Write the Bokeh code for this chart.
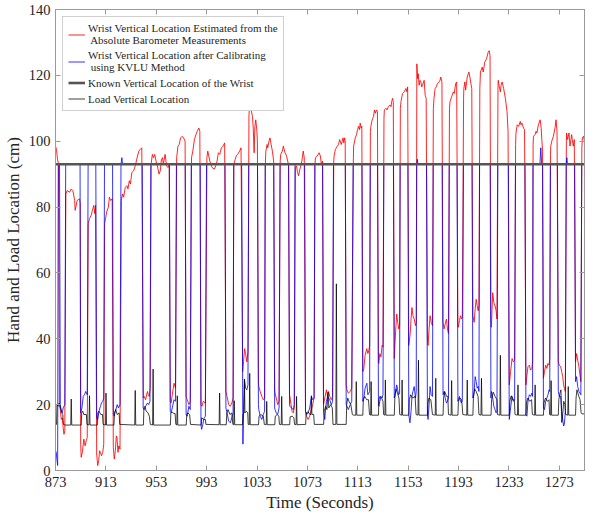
from bokeh.plotting import figure
from bokeh.models import Range1d, FixedTicker, LinearAxis, Legend, LegendItem
from bokeh.embed import file_html
from bokeh.resources import INLINE

# ---------------- data (time in seconds, location in cm) ----------------
t_start = 873
t_end = 1293
x_ticks = [873, 913, 953, 993, 1033, 1073, 1113, 1153, 1193, 1233, 1273]
y_ticks = [0, 20, 40, 60, 80, 100, 120, 140]
known_level = 93

red_points = [
    (873.0, 98.5), (873.8, 97.5), (874.6, 94.5), (875.4, 93),
    (876.1, 20), (876.8, 18.5), (877.6, 15.5), (878.4, 16), (879.1, 13), (879.7, 11), (880.4, 12),
    (881.2, 84), (882.3, 85), (884.2, 84.5), (885.5, 85.5), (886.8, 85), (888.2, 82), (888.6, 79), (890.2, 82), (892.1, 82.5), (892.6, 81),
    (893.0, 8), (893.4, 4), (894.3, 5.5), (895.5, 9.5), (896.0, 8.5), (896.5, 7.5), (897.4, 9), (898.2, 10),
    (899.0, 75), (900.0, 76.5), (901.3, 77.5), (902.3, 79), (903.4, 80.5), (904.2, 78), (904.8, 80.5),
    (905.7, 5), (906.5, 1.5), (907.3, 3), (908.0, 6), (908.7, 5.5), (909.5, 4.5), (910.5, 5.5), (911.3, 8),
    (912.0, 75), (913.0, 77), (913.6, 78.5), (915.0, 80), (915.8, 83), (916.8, 82), (918.0, 82.5),
    (918.9, 7), (919.7, 3.5), (920.5, 6), (921.3, 10.5), (921.8, 10), (922.6, 5.5), (923.3, 7.5), (924.2, 6.5),
    (925.3, 82), (926.2, 84), (927.1, 83), (928.4, 86), (929.7, 86.5), (930.5, 85.5), (931.6, 88), (932.5, 87),
    (933.6, 90.5), (935.0, 91), (936.3, 92.5), (937.2, 94), (938.1, 95.5), (939.2, 97), (940.2, 97.5), (941.5, 98),
    (942.7, 22), (943.4, 22.5), (944.5, 21.5), (946.0, 24), (946.7, 23), (947.4, 22.5), (948.2, 25),
    (948.9, 93), (949.9, 96), (950.8, 95), (951.8, 96), (952.8, 94), (953.9, 92.5), (955.2, 90), (956.2, 91),
    (957.1, 94.5), (958.0, 95), (958.6, 93), (960.0, 96), (961.2, 92.5), (962.3, 92), (963.3, 93),
    (964.1, 21), (964.8, 20.5), (965.7, 23), (967.1, 26.5), (968.3, 25),
    (969.2, 95), (970.2, 98.5), (971.2, 99), (972.3, 101), (973.6, 101.5), (974.7, 101), (975.9, 100),
    (976.7, 22.5), (977.6, 21.5), (978.9, 20), (980.0, 21),
    (981.0, 95), (982.0, 97), (983.3, 100.5), (984.5, 102), (985.5, 103), (986.8, 104), (987.6, 103),
    (988.5, 20), (989.3, 19.5), (990.3, 21), (992.0, 20.5),
    (993.2, 95), (993.9, 97), (995.5, 94), (997.3, 92), (999.1, 91.5), (1000.2, 92.5), (1001.3, 94), (1002.3, 96.5),
    (1003.4, 96), (1004.7, 98), (1006.0, 98.5), (1007.3, 99.5),
    (1008.3, 24), (1009.2, 22.5), (1010.5, 20), (1011.8, 19.5), (1013.0, 20.5), (1014.0, 22),
    (1014.6, 93), (1015.7, 94.5), (1016.5, 95.5), (1017.6, 96), (1019.2, 97), (1020.3, 98),
    (1021.6, 30), (1022.3, 33), (1023.1, 37), (1023.9, 35.5), (1024.9, 33), (1025.8, 36),
    (1026.6, 108), (1027.1, 110.5), (1028.3, 109.5), (1029.4, 107.5), (1030.0, 104), (1030.7, 96.5), (1031.3, 104.5),
    (1032.0, 106.5), (1032.8, 103.5), (1033.3, 100),
    (1034.1, 27), (1034.4, 25.5), (1035.5, 24), (1036.8, 22.5), (1038.0, 21.5), (1039.0, 22),
    (1039.6, 93), (1040.0, 97), (1041.0, 99), (1041.5, 98), (1042.5, 100), (1043.3, 101), (1044.2, 99), (1045.2, 97), (1046.2, 94),
    (1047.0, 24.5), (1047.3, 23.5), (1048.3, 22), (1049.4, 20), (1050.5, 21),
    (1051.4, 94), (1051.8, 96), (1053.1, 97), (1053.9, 98.5), (1055.2, 96.5), (1056.5, 95.5), (1057.3, 94), (1058.0, 93),
    (1058.8, 23), (1059.1, 22.5), (1060.0, 20), (1060.8, 18), (1061.8, 17.5), (1062.6, 19),
    (1063.4, 92), (1064.3, 92.5), (1065.2, 90.5), (1066.0, 89.5), (1067.0, 91.5), (1067.8, 92.5), (1068.6, 94), (1069.7, 97), (1070.5, 95),
    (1071.5, 18), (1072.3, 16.5), (1073.6, 15.5), (1074.8, 16.5), (1076.2, 18.5), (1077.2, 20), (1078.3, 22),
    (1079.0, 93), (1079.4, 95), (1080.8, 95.5), (1082.3, 96.5), (1083.3, 95.5), (1084.1, 93), (1085.0, 94),
    (1085.8, 20), (1086.8, 22), (1088.1, 24.5), (1089.0, 22.5), (1089.8, 24), (1090.7, 22.5), (1092.0, 21.5), (1093.0, 22.5),
    (1093.9, 94), (1094.2, 95.5), (1095.2, 97.5), (1096.8, 98.5), (1097.7, 99), (1098.6, 100.5), (1099.9, 99), (1100.6, 100),
    (1101.3, 101), (1101.9, 99.5), (1102.5, 101), (1103.0, 100),
    (1103.8, 26), (1104.4, 24.5), (1105.5, 23.5), (1107.0, 24), (1108.2, 25),
    (1109.5, 95), (1109.7, 98.5), (1111.0, 101), (1112.0, 102), (1112.8, 103.5), (1113.6, 104.5), (1114.4, 103.5), (1114.9, 105.5),
    (1115.7, 104), (1116.2, 104.5),
    (1117.0, 30), (1117.8, 31), (1118.8, 35), (1120.2, 37), (1121.0, 35.5), (1121.8, 36.5), (1122.4, 38),
    (1123.0, 103), (1123.4, 104.5), (1124.1, 106), (1124.9, 107), (1125.5, 107.5), (1126.2, 109.5), (1127.0, 108.5), (1127.8, 109.5), (1128.6, 109),
    (1129.4, 33), (1129.7, 32.5), (1130.5, 35.5), (1131.4, 34.5), (1132.3, 38), (1133.0, 37.5),
    (1133.8, 107), (1134.1, 109.5), (1135.4, 110), (1136.2, 109.5), (1137.3, 110.5), (1138.6, 111), (1139.4, 110.5), (1139.9, 112),
    (1140.6, 113), (1141.2, 112),
    (1142.0, 34), (1142.6, 39), (1143.3, 44), (1143.9, 47.5), (1144.7, 45), (1145.5, 43), (1146.2, 44),
    (1146.8, 110), (1147.3, 112), (1148.0, 113.5), (1148.6, 114.5), (1149.9, 115), (1151.2, 116), (1152.0, 115), (1152.6, 116.5),
    (1153.5, 38), (1154.6, 41.5), (1155.3, 46), (1156.0, 49.5), (1156.8, 47), (1157.8, 46), (1158.8, 44), (1159.4, 45),
    (1159.9, 123.5), (1160.5, 119), (1161.0, 120.5), (1161.7, 117), (1162.4, 118.5), (1163.1, 118), (1163.8, 116.5), (1164.4, 117),
    (1165.7, 118.5), (1166.5, 114), (1167.3, 113),
    (1168.3, 40), (1168.8, 38), (1169.6, 43), (1170.4, 47), (1171.3, 45), (1172.3, 44),
    (1173.0, 110), (1173.5, 113), (1174.4, 116), (1175.3, 116.5), (1176.2, 117.5), (1177.5, 118), (1178.3, 118.5), (1178.9, 119.5), (1179.8, 118),
    (1180.7, 45), (1181.5, 43), (1182.4, 44.5), (1183.4, 46), (1184.2, 43), (1185.0, 41.5),
    (1185.8, 110), (1186.2, 112), (1187.5, 113.5), (1188.9, 115), (1189.6, 114.5), (1190.7, 117.5), (1191.5, 118),
    (1192.5, 44), (1192.8, 43.5), (1193.7, 45.5), (1194.6, 47), (1195.3, 46), (1196.0, 46.5),
    (1197.0, 113), (1197.2, 116), (1198.0, 118), (1198.6, 115.5), (1199.9, 119.5), (1201.2, 121), (1202.0, 119.5), (1202.8, 117.5), (1203.5, 116),
    (1204.4, 47), (1205.4, 45), (1206.2, 49), (1207.0, 52), (1207.8, 50), (1208.6, 48.5), (1209.2, 50),
    (1209.9, 116), (1210.4, 121), (1211.8, 122.5), (1212.6, 121), (1213.8, 124), (1215.2, 125), (1216.5, 127), (1217.3, 127.5), (1218.0, 126),
    (1218.7, 47), (1219.1, 43.5), (1219.6, 49), (1220.1, 54), (1221.0, 51), (1222.0, 50), (1222.8, 48.5), (1223.5, 46),
    (1224.3, 116), (1224.5, 118.5), (1225.4, 116.5), (1226.2, 115), (1226.8, 117), (1227.6, 118), (1228.8, 116), (1230.2, 113),
    (1231.5, 109), (1232.3, 103),
    (1233.2, 28), (1233.3, 26), (1234.3, 30), (1235.5, 34), (1236.5, 33), (1237.5, 33.5),
    (1238.3, 99), (1238.6, 102.5), (1239.6, 105), (1240.7, 104.5), (1242.0, 106), (1242.6, 105), (1243.3, 105.5), (1244.6, 104), (1245.4, 103.5),
    (1246.5, 26), (1247.3, 29), (1248.1, 31.5), (1249.2, 32), (1250.2, 30.5), (1251.2, 31), (1251.8, 33),
    (1252.2, 99), (1252.5, 101.5), (1253.8, 102), (1254.5, 103), (1255.2, 102.5), (1256.4, 105), (1257.8, 106.5), (1258.6, 104),
    (1259.1, 100.5), (1259.7, 97),
    (1260.4, 28), (1261.2, 30), (1262.2, 32), (1263.1, 31), (1264.0, 32.5), (1264.9, 32), (1265.4, 34),
    (1266.0, 96), (1266.2, 98.5), (1267.0, 100), (1268.3, 101.5), (1269.6, 104), (1270.4, 106.5), (1271.2, 103),
    (1272.2, 33), (1273.0, 32), (1274.1, 31.5), (1274.9, 30), (1275.7, 28.5), (1276.4, 26), (1277.0, 25), (1277.8, 24),
    (1278.6, 100), (1278.8, 102.5), (1279.6, 100.5), (1280.7, 102.5), (1281.5, 98.5), (1282.8, 102), (1283.3, 100.5), (1284.1, 98.5), (1284.9, 100.5),
    (1285.9, 33), (1286.7, 35.5), (1287.6, 33.5), (1288.6, 31.5), (1289.4, 29), (1290.1, 27),
    (1290.9, 98), (1291.3, 101), (1292.2, 101.5), (1293.0, 100),
]

blue_points = [
    (873.0, 6), (873.6, 5.5), (874.2, 3), (874.7, 1.5), (875.2, 93), (876.2, 93),
    (876.8, 20), (877.6, 18), (878.4, 17.5), (879.1, 19), (879.7, 19.5), (880.4, 20),
    (881.1, 93), (892.5, 93),
    (893.0, 17.5), (894.0, 19), (895.0, 22.5), (896.0, 23), (897.0, 24), (898.2, 23),
    (898.9, 93), (905.0, 93),
    (905.7, 16), (906.5, 15.5), (907.5, 18), (908.7, 19.5), (909.5, 20.5), (910.5, 21), (911.3, 22),
    (911.9, 93), (918.3, 93),
    (918.9, 17), (919.7, 16.5), (920.5, 18), (921.3, 19), (922.0, 20), (923.0, 19), (924.2, 20),
    (925.0, 93), (925.7, 95), (926.2, 93), (941.9, 93),
    (942.6, 19), (943.4, 18.5), (944.5, 19.5), (946.0, 20.5), (947.0, 20), (948.0, 21),
    (948.7, 93), (963.4, 93),
    (964.1, 18), (964.8, 17.5), (965.7, 19), (967.1, 21.5), (968.3, 21),
    (969.0, 93), (976.0, 93),
    (976.7, 17), (977.6, 16.5), (978.9, 19.5), (980.0, 18.5),
    (980.8, 93), (987.9, 93),
    (988.5, 14), (989.0, 12.5), (990.0, 14), (991.0, 16), (992.0, 16.5),
    (992.9, 93), (1007.6, 93),
    (1008.3, 19), (1009.2, 17.5), (1010.5, 15), (1011.8, 14.5), (1013.0, 16), (1014.0, 17.5),
    (1014.5, 93), (1020.8, 93),
    (1021.8, 8), (1022.3, 18), (1023.1, 27.5), (1024.0, 25), (1024.9, 24.5), (1025.8, 26),
    (1026.4, 93), (1033.4, 93),
    (1034.1, 20), (1034.4, 18.5), (1035.5, 16.5), (1036.8, 15.5), (1038.0, 17), (1039.0, 18),
    (1039.5, 93), (1046.3, 93),
    (1047.0, 19), (1047.3, 18.5), (1048.3, 17.5), (1049.4, 17), (1050.5, 19),
    (1051.3, 93), (1058.1, 93),
    (1058.8, 20), (1059.1, 19.5), (1060.3, 19), (1061.8, 18.5), (1062.6, 20),
    (1063.2, 93), (1070.8, 93),
    (1071.5, 18), (1072.5, 17), (1073.6, 17.5), (1074.8, 19), (1076.2, 22.5), (1077.2, 21.5), (1078.3, 22),
    (1078.9, 93), (1085.1, 93),
    (1085.8, 18), (1086.8, 15.5), (1087.5, 19), (1088.1, 21), (1089.0, 22.5), (1090.7, 21.5), (1092.0, 20), (1093.0, 21),
    (1093.7, 93), (1103.1, 93),
    (1103.8, 20), (1104.4, 19.5), (1105.5, 18.5), (1107.0, 20), (1108.2, 21),
    (1109.3, 93), (1116.3, 93),
    (1117.0, 21), (1117.8, 22), (1118.8, 25), (1120.2, 26.5), (1121.0, 23), (1121.8, 23.5), (1122.4, 24),
    (1122.9, 93), (1128.7, 93),
    (1129.4, 20), (1129.7, 19.5), (1130.5, 21), (1131.4, 22.5), (1132.3, 22), (1133.0, 23),
    (1133.7, 93), (1141.3, 93),
    (1142.0, 22), (1142.6, 23), (1143.3, 24.5), (1143.9, 26), (1144.7, 24.5), (1145.5, 23), (1146.2, 23.5),
    (1146.6, 93), (1152.8, 93),
    (1153.5, 17), (1154.4, 14.5), (1155.3, 18), (1156.0, 22.5), (1156.8, 24), (1157.8, 25.5), (1158.8, 22), (1159.4, 24),
    (1159.8, 93), (1160.3, 94.5), (1160.8, 93), (1167.6, 93),
    (1168.3, 17), (1168.8, 15.5), (1169.6, 20), (1170.4, 25.5), (1171.3, 23), (1172.3, 22.5),
    (1172.9, 93), (1180.0, 93),
    (1180.7, 23), (1181.5, 24), (1182.4, 22), (1183.4, 20.5), (1184.2, 21), (1185.0, 22),
    (1185.6, 93), (1191.8, 93),
    (1192.5, 21), (1192.8, 21.5), (1193.7, 22.5), (1194.6, 21), (1195.3, 20.5), (1196.0, 21.5),
    (1196.9, 93), (1203.7, 93),
    (1204.4, 22), (1205.4, 24), (1206.2, 28.5), (1207.0, 27), (1207.8, 25), (1208.6, 25.5), (1209.2, 24),
    (1209.7, 93), (1218.1, 93),
    (1218.7, 22), (1219.1, 24), (1220.1, 22), (1221.0, 19.5), (1222.0, 18.5), (1222.8, 17.5), (1223.5, 18),
    (1224.2, 93), (1232.6, 93),
    (1233.2, 18), (1233.3, 15.5), (1234.3, 19), (1235.5, 22.5), (1236.5, 21), (1237.5, 21.5),
    (1238.2, 93), (1245.8, 93),
    (1246.5, 17), (1247.3, 16.5), (1248.1, 21), (1249.2, 23), (1250.2, 22.5), (1251.2, 23.5), (1251.8, 22.5),
    (1252.1, 93), (1257.6, 93), (1258.3, 98), (1259.0, 93), (1259.7, 93),
    (1260.4, 19), (1261.2, 18.5), (1262.2, 21), (1263.1, 22), (1264.0, 23), (1264.9, 24.5), (1265.4, 24),
    (1265.9, 93), (1271.5, 93),
    (1272.2, 24), (1273.0, 22.5), (1274.1, 22.5), (1274.9, 18), (1275.7, 15.5), (1276.4, 13.5), (1277.0, 14), (1277.8, 18),
    (1278.5, 93), (1279.0, 95), (1279.5, 93), (1285.2, 93),
    (1285.9, 27), (1286.7, 28.5), (1287.6, 25.5), (1288.6, 24), (1289.4, 23.5), (1290.1, 23),
    (1290.8, 93), (1293.0, 93),
]

load_points = [
    (873.0, 13.8), (873.8, 14), (874.2, 20), (875.0, 19.5), (876.0, 20.5), (877.0, 19), (878.0, 17.5), (878.8, 17), (879.3, 14), (880.5, 13.8),
    (885.1, 13.8), (885.5, 21.7), (885.9, 13.8),
    (893.4, 13.8), (893.8, 17.5), (894.6, 18), (895.5, 17), (897.5, 17), (898.0, 14), (899.6, 13.8), (900.0, 22.7), (900.4, 13.8),
    (906.2, 13.8), (906.6, 17.5), (907.5, 18), (909.0, 17), (910.3, 17), (910.8, 14), (912.7, 13.8), (913.1, 23.5), (913.5, 13.8),
    (919.4, 13.8), (919.8, 17.5), (920.8, 18.5), (922.0, 17), (923.5, 17.5), (924.0, 14), (935.9, 13.8), (936.3, 24.3), (936.7, 13.8),
    (942.8, 13.8), (943.2, 19), (944.0, 19.5), (945.0, 18), (946.5, 17.5), (947.5, 16.5), (948.3, 14), (950.1, 13.8), (950.5, 30.8), (950.9, 13.8),
    (964.2, 13.8), (964.6, 17.5), (965.5, 17.8), (967.0, 17.3), (968.0, 17.3), (968.5, 14), (969.3, 13.8), (969.7, 22.7), (970.1, 13.8),
    (976.8, 13.8), (977.2, 17), (978.0, 17.5), (979.5, 17), (980.2, 14),
    (988.7, 13.8), (989.1, 16), (990.5, 15.5), (992.0, 15.5), (992.4, 14),
    (1002.9, 13.9), (1003.3, 23.5), (1003.7, 13.9),
    (1008.6, 13.9), (1009.0, 17.5), (1010.0, 18.5), (1011.5, 17), (1013.0, 17.5), (1013.8, 14), (1014.5, 13.9), (1014.9, 21.2), (1015.3, 13.9),
    (1021.5, 13.9), (1021.9, 17), (1022.6, 17.5), (1023.0, 27.8), (1023.4, 17.5), (1024.5, 18), (1025.6, 17.5), (1026.0, 14),
    (1026.8, 13.9), (1027.2, 29.5), (1027.6, 13.9),
    (1034.2, 13.9), (1034.6, 16.5), (1036.0, 17), (1038.0, 16.5), (1038.8, 14), (1040.3, 13.9), (1040.7, 21), (1041.1, 13.9),
    (1047.1, 13.9), (1047.5, 16.5), (1049.0, 17), (1050.3, 16.5), (1050.8, 14), (1052.2, 13.9), (1052.6, 22.5), (1053.0, 13.9),
    (1058.9, 13.9), (1059.3, 16.3), (1061.0, 16.5), (1062.3, 16), (1062.8, 14), (1064.0, 13.9), (1064.4, 22.5), (1064.8, 13.9),
    (1071.6, 14), (1072.0, 17.5), (1073.5, 17.8), (1075.0, 17), (1075.8, 17), (1076.2, 22.7), (1076.6, 17), (1078.0, 17), (1078.5, 14),
    (1085.9, 14), (1086.3, 18), (1087.5, 19.5), (1088.5, 18.5), (1089.4, 23.8), (1090.0, 19), (1091.5, 20), (1092.8, 19), (1093.3, 14),
    (1095.6, 14), (1096.0, 56.7), (1096.4, 14),
    (1103.8, 14), (1104.2, 20), (1105.0, 22), (1106.0, 21), (1107.5, 20), (1108.7, 17), (1109.6, 16.8), (1111.4, 16.8), (1111.8, 27), (1112.2, 16.8),
    (1117.0, 16.8), (1117.4, 21.5), (1118.5, 22.5), (1120.0, 21.5), (1121.5, 21.5), (1122.3, 17), (1123.2, 16.8), (1123.6, 27), (1124.0, 16.8),
    (1129.4, 16.8), (1129.8, 21.5), (1130.5, 22.5), (1132.0, 22), (1133.0, 21), (1133.5, 17), (1134.5, 16.8), (1134.9, 27.5), (1135.3, 16.8),
    (1142.0, 16.8), (1142.4, 22), (1143.3, 24.8), (1144.5, 23.5), (1145.7, 22), (1146.3, 17), (1147.8, 16.8), (1148.2, 27.5), (1148.6, 16.8),
    (1153.5, 16.8), (1153.9, 21.5), (1155.0, 23), (1156.5, 22), (1158.5, 22.5), (1159.3, 17), (1160.8, 16.8), (1161.2, 33.5), (1161.6, 16.8),
    (1168.3, 16.8), (1168.7, 20.5), (1169.5, 22), (1171.0, 21.5), (1172.3, 17), (1174.5, 16.8), (1174.9, 28), (1175.3, 16.8),
    (1180.7, 16.8), (1181.1, 22), (1182.0, 24), (1183.5, 22.5), (1184.5, 22.5), (1185.0, 17), (1187.1, 16.8), (1187.5, 27.3), (1187.9, 16.8),
    (1192.5, 16.8), (1192.9, 21), (1194.0, 22), (1195.5, 21.5), (1196.4, 17), (1199.5, 16.8), (1199.9, 27.5), (1200.3, 16.8),
    (1204.4, 16.8), (1204.8, 22), (1205.8, 24.8), (1207.0, 24), (1208.5, 22.5), (1209.2, 17), (1210.8, 16.8), (1211.2, 28), (1211.6, 16.8),
    (1218.8, 16.8), (1219.2, 21.5), (1220.5, 23.8), (1222.0, 22.5), (1223.5, 21.5), (1223.9, 17), (1225.8, 16.8), (1226.2, 35), (1226.6, 16.8),
    (1233.3, 16.8), (1233.7, 21), (1234.8, 22.7), (1236.0, 21.5), (1237.3, 21.5), (1237.8, 17), (1239.8, 16.8), (1240.2, 26), (1240.6, 16.8),
    (1246.5, 16.8), (1246.9, 20.5), (1248.0, 22), (1249.5, 21), (1251.0, 21.5), (1251.6, 17), (1253.4, 16.8), (1253.8, 26), (1254.2, 16.8),
    (1260.4, 16.8), (1260.8, 20.5), (1262.0, 22), (1263.5, 21), (1264.8, 21.5), (1265.3, 17), (1266.1, 16.8), (1266.5, 27.3), (1266.9, 16.8),
    (1272.2, 16.8), (1272.6, 21.5), (1273.5, 23.5), (1274.3, 24.5), (1274.9, 14.6), (1275.5, 16), (1276.5, 21), (1277.5, 20), (1278.0, 17),
    (1279.7, 16.8), (1280.1, 25.5), (1280.5, 16.8),
    (1285.9, 16.8), (1286.3, 22), (1287.0, 24.5), (1288.5, 22.5), (1289.5, 21.5), (1290.3, 17.5), (1291.0, 17.2), (1293.0, 17.2),
]

labels = [
    "Wrist Vertical Location Estimated from the\n Absolute Barometer Measurements",
    "Wrist Vertical Location after Calibrating\n using KVLU Method",
    "Known Vertical Location of the Wrist",
    "Load Vertical Location",
]

# ---------------- figure ----------------
FONT = "Liberation Serif"
AX_COLOR = "#9a9a9a"
TXT_COLOR = "#262626"

p = figure(width=585, height=514, output_backend="svg", toolbar_location=None,
           x_range=Range1d(t_start, t_end), y_range=Range1d(0, 140),
           min_border_left=52, min_border_right=1, min_border_top=9, min_border_bottom=44)
p.grid.visible = False
p.outline_line_color = AX_COLOR
p.background_fill_color = "white"
p.border_fill_color = "white"

red_t = [a for a, b in red_points]
red_v = [b for a, b in red_points]
blue_t = [a for a, b in blue_points]
blue_v = [b for a, b in blue_points]
load_t = [a for a, b in load_points]
load_v = [b for a, b in load_points]

r_red = p.line(red_t, red_v, line_color="#ff0000", line_width=1, line_alpha=0.85)
r_blue = p.line(blue_t, blue_v, line_color="#0000ff", line_width=1, line_alpha=0.8)
r_known = p.line([t_start, t_end], [known_level, known_level], line_color="#555555", line_width=2.6)
r_load = p.line(load_t, load_v, line_color="#000000", line_width=1, line_alpha=0.75)

for ax in (p.xaxis[0], p.yaxis[0]):
    ax.axis_line_color = AX_COLOR
    ax.major_tick_line_color = AX_COLOR
    ax.major_tick_in = 5
    ax.major_tick_out = 0
    ax.minor_tick_line_color = None
    ax.major_label_text_font = FONT
    ax.major_label_text_font_size = "14.5px"
    ax.major_label_text_color = TXT_COLOR
    ax.axis_label_text_font = FONT
    ax.axis_label_text_font_size = "17px"
    ax.axis_label_text_font_style = "normal"
    ax.axis_label_text_color = TXT_COLOR

p.xaxis[0].ticker = FixedTicker(ticks=x_ticks)
p.yaxis[0].ticker = FixedTicker(ticks=y_ticks)
p.xaxis[0].axis_label = "Time (Seconds)"
p.yaxis[0].axis_label = "Hand and Load Location (cm)"
p.xaxis[0].major_label_standoff = 6
p.xaxis[0].axis_label_standoff = 3
p.yaxis[0].major_label_standoff = 5
p.yaxis[0].axis_label_standoff = 3

ax_top = LinearAxis(ticker=FixedTicker(ticks=x_ticks))
ax_right = LinearAxis(ticker=FixedTicker(ticks=y_ticks))
for ax in (ax_top, ax_right):
    ax.axis_line_color = AX_COLOR
    ax.major_tick_line_color = AX_COLOR
    ax.major_tick_in = 5
    ax.major_tick_out = 0
    ax.minor_tick_line_color = None
    ax.major_label_text_font_size = "1px"
    ax.major_label_text_color = None
    ax.major_label_standoff = 0
p.add_layout(ax_top, "above")
p.add_layout(ax_right, "right")

legend = Legend(items=[
    LegendItem(label=labels[0], renderers=[r_red]),
    LegendItem(label=labels[1], renderers=[r_blue]),
    LegendItem(label=labels[2], renderers=[r_known]),
    LegendItem(label=labels[3], renderers=[r_load]),
])
legend.location = "top_left"
legend.margin = 7
legend.padding = 5
legend.spacing = 3
legend.glyph_width = 17
legend.glyph_height = 13
legend.label_height = 13
legend.label_standoff = 3
legend.label_text_font = FONT
legend.label_text_font_size = "11px"
legend.label_text_color = TXT_COLOR
legend.label_text_line_height = 1.35
legend.border_line_color = "#a0a0a0"
legend.border_line_width = 1
legend.background_fill_color = "white"
legend.background_fill_alpha = 1
p.add_layout(legend, "center")

open("out.html", "w").write(file_html(p, INLINE))
